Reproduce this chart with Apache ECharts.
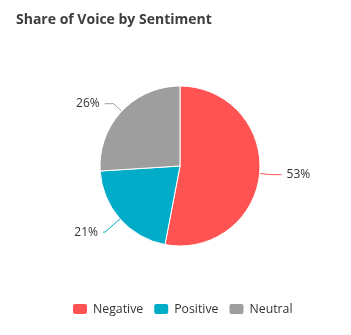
<!DOCTYPE html>
<html><head><meta charset="utf-8">
<script src="https://cdn.jsdelivr.net/npm/echarts@6/dist/echarts.min.js"></script>
<style>html,body{margin:0;padding:0;background:#fff}#c{width:351px;height:335px}</style>
</head><body><div id="c"></div>
<script>
var categories = ["Negative", "Positive", "Neutral"];
var values = [53, 21, 26];
var colors = ["#FF5252", "#00ACC8", "#9E9E9E"];
var lineLen = [12, 20, 11];
var lineLen2 = [10, 2, 9];

var chart = echarts.init(document.getElementById('c'));
chart.setOption({
  animation: false,
  title: {
    text: "Share of Voice by Sentiment",
    left: 11, top: 8,
    textStyle: { fontFamily: "Open Sans", fontSize: 14, fontWeight: "bold", color: "#3d3d3d" }
  },
  legend: {
    bottom: 14, left: 66,
    itemWidth: 16, itemHeight: 12, itemGap: 9,
    icon: "roundRect",
    textStyle: { fontFamily: "Open Sans", fontSize: 12.3, color: "#333" },
    data: categories
  },
  series: [{
    type: "pie",
    center: [180, 166],
    radius: 80,
    startAngle: 90,
    clockwise: true,
    itemStyle: { borderColor: "#fff", borderWidth: 1 },
    label: { formatter: "{d}%", fontFamily: "Open Sans", fontSize: 12, color: "#333" },
    data: categories.map(function (c, i) {
      return { name: c, value: values[i], itemStyle: { color: colors[i] },
               labelLine: { length: lineLen[i], length2: lineLen2[i] } };
    })
  }]
});
</script></body></html>
